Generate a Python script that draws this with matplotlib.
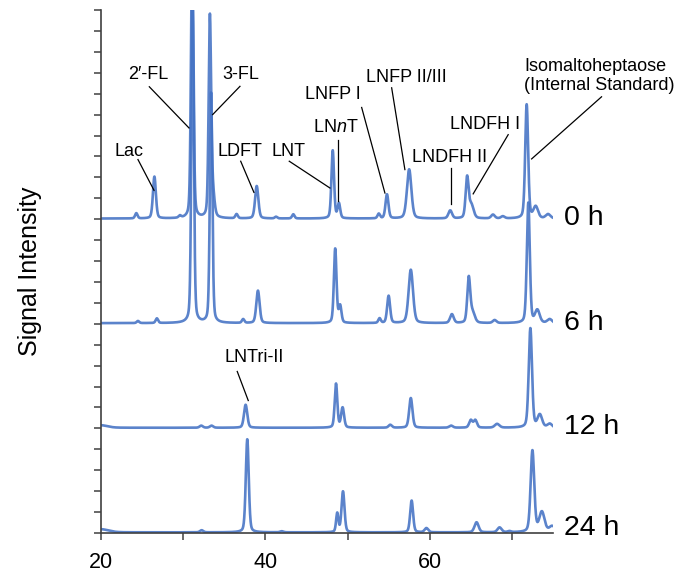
import numpy as np
import matplotlib
matplotlib.use("Agg")
import matplotlib.pyplot as plt

plt.rcParams['font.family'] = ['Liberation Sans', 'DejaVu Sans']
plt.rcParams['mathtext.fontset'] = 'custom'
plt.rcParams['mathtext.rm'] = 'Liberation Sans'
plt.rcParams['mathtext.it'] = 'Liberation Sans:italic'

# Retention-time axis (min)
rt_min, rt_max = 20, 75

# Sample time points and vertical stacking offsets
time_labels = ["0 h", "6 h", "12 h", "24 h"]
offsets = [15, 10, 5, 0]

# Peak tables per sample: retention time, height, width (sigma)
peaks_0h_rt = [24.3, 26.5, 29.6, 31.1, 33.25, 33.6, 36.5, 38.95, 41.3, 43.4,
               48.2, 48.95, 53.8, 54.8, 57.5, 62.5, 64.55, 65.05, 67.7, 68.9,
               71.8, 72.9, 74.4]
peaks_0h_h = [0.25, 2.0, 0.1, 13.0, 9.5, 1.1, 0.2, 1.55, 0.08, 0.2,
              3.25, 0.7, 0.22, 1.15, 2.35, 0.38, 1.9, 0.65, 0.18, 0.1,
              5.45, 0.55, 0.2]
peaks_0h_w = [0.15, 0.18, 0.15, 0.15, 0.15, 0.2, 0.15, 0.2, 0.15, 0.15,
              0.16, 0.16, 0.15, 0.18, 0.27, 0.22, 0.18, 0.28, 0.22, 0.22,
              0.18, 0.28, 0.28]

peaks_6h_rt = [24.5, 26.8, 31.15, 33.4, 37.3, 39.1, 48.5, 49.1, 53.9, 55.0,
               57.7, 62.7, 64.75, 65.2, 67.9, 72.0, 73.1, 74.6]
peaks_6h_h = [0.1, 0.22, 15.0, 11.0, 0.18, 1.55, 3.55, 0.8, 0.22, 1.3,
              2.55, 0.42, 2.1, 0.5, 0.14, 5.75, 0.6, 0.18]
peaks_6h_w = [0.15, 0.15, 0.15, 0.15, 0.15, 0.2, 0.16, 0.16, 0.15, 0.18,
              0.27, 0.22, 0.18, 0.28, 0.22, 0.18, 0.28, 0.28]

peaks_12h_rt = [20.0, 32.2, 33.45, 37.6, 48.6, 49.4, 55.2, 57.7, 62.6,
                65.0, 65.55, 68.2, 72.25, 73.4, 74.6]
peaks_12h_h = [0.12, 0.1, 0.1, 1.1, 2.1, 0.95, 0.14, 1.42, 0.1,
               0.36, 0.36, 0.18, 4.75, 0.6, 0.18]
peaks_12h_w = [0.8, 0.2, 0.2, 0.2, 0.16, 0.18, 0.2, 0.2, 0.22,
               0.2, 0.2, 0.28, 0.2, 0.28, 0.28]

peaks_24h_rt = [20.0, 32.25, 37.8, 42.0, 48.75, 49.45, 57.8, 59.6, 65.7,
                68.5, 69.7, 72.5, 73.65, 74.9]
peaks_24h_h = [0.15, 0.1, 4.45, 0.05, 0.9, 1.95, 1.52, 0.2, 0.48,
               0.23, 0.05, 3.9, 0.95, 0.28]
peaks_24h_w = [0.9, 0.2, 0.18, 0.2, 0.14, 0.18, 0.18, 0.22, 0.25,
               0.25, 0.2, 0.22, 0.32, 0.35]

peak_tables = [
    (peaks_0h_rt, peaks_0h_h, peaks_0h_w),
    (peaks_6h_rt, peaks_6h_h, peaks_6h_w),
    (peaks_12h_rt, peaks_12h_h, peaks_12h_w),
    (peaks_24h_rt, peaks_24h_h, peaks_24h_w),
]

# Peak annotations: label, text position, leader line start/end (data units)
annot_labels = ["Lac", "2\u2032-FL", "3-FL", "LDFT", "LNT", "LN$\\mathit{n}$T",
                "LNFP I", "LNFP II/III", "LNDFH II", "LNDFH I", "LNTri-II"]
annot_text_xy = [(23.35, 18.23), (25.72, 21.91), (36.97, 21.91), (36.91, 18.23),
                 (42.87, 18.23), (48.53, 19.38), (48.22, 20.96), (57.11, 21.77),
                 (62.46, 17.94), (66.72, 19.52), (38.61, 8.40)]
annot_line_from = [(24.50, 17.85), (25.88, 21.33), (36.91, 21.35), (37.0, 17.77),
                   (42.91, 17.77), (48.80, 18.80), (51.72, 20.34), (55.37, 21.28),
                   (62.58, 17.45), (69.55, 19.04), (36.58, 7.72)]
annot_line_to = [(26.45, 16.38), (30.71, 19.36), (33.59, 20.0), (38.61, 16.28),
                 (47.86, 16.49), (48.80, 15.85), (54.55, 16.25), (56.98, 17.37),
                 (62.58, 15.74), (65.29, 16.21), (37.92, 6.33)]

std_label = "Isomaltoheptaose\n(Internal Standard)"
std_text_xy = (71.46, 21.86)
std_line_from = (80.91, 20.85)
std_line_to = (72.40, 17.88)

line_color = "#4472C4"

rt = np.linspace(rt_min, rt_max, 4000)


def trace(rts, hs, ws, eta=0.3):
    # pseudo-Voigt peak shapes (Gaussian core with Lorentzian tails)
    y = np.zeros_like(rt)
    for c, h, w in zip(rts, hs, ws):
        g = np.exp(-0.5 * ((rt - c) / w) ** 2)
        hw = 1.1774 * w
        lo = 1.0 / (1.0 + ((rt - c) / hw) ** 2)
        y += h * ((1 - eta) * g + eta * lo)
    return y


fig = plt.figure(figsize=(6.81, 5.77), dpi=100)
ax = fig.add_axes([0.1483, 0.0763, 0.6637, 0.9064])

for (rts, hs, ws), off, lab in zip(peak_tables, offsets, time_labels):
    y = trace(rts, hs, ws) + off + 0.03
    ax.plot(rt, y, color=line_color, lw=1.9, alpha=0.88, solid_joinstyle='round')
    ax.text(76.4, off + (0.25 if off == 0 else 0.05), lab, fontsize=20.5,
            ha='left', va='center', clip_on=False)

for lab, (tx, ty), (x0, y0), (x1, y1) in zip(annot_labels, annot_text_xy,
                                              annot_line_from, annot_line_to):
    ax.text(tx, ty, lab, fontsize=13, ha='center', va='center')
    ax.plot([x0, x1], [y0, y1], color='black', lw=0.9, clip_on=False)

ax.text(std_text_xy[0], std_text_xy[1], std_label, fontsize=13, ha='left',
        va='center', linespacing=1.15, clip_on=False)
ax.plot([std_line_from[0], std_line_to[0]], [std_line_from[1], std_line_to[1]],
        color='black', lw=0.9, clip_on=False)

ax.set_xlim(rt_min, rt_max)
ax.set_ylim(0, 25)
ax.set_xticks([20, 40, 60])
ax.set_xticks([30, 50, 70], minor=True)
ax.set_yticks(np.arange(0, 26, 1))
ax.set_yticklabels([])
ax.tick_params(axis='x', which='both', direction='out', length=5, width=1.1,
               color='#404040', labelsize=15.5, pad=9)
ax.tick_params(axis='y', direction='out', length=5, width=1.1, color='#404040')

for side in ('top', 'right'):
    ax.spines[side].set_visible(False)
for side in ('left', 'bottom'):
    ax.spines[side].set_color('#404040')
    ax.spines[side].set_linewidth(1.2)

ax.set_ylabel("Signal Intensity", fontsize=18, labelpad=34)

fig.savefig("out.png", dpi=100)
